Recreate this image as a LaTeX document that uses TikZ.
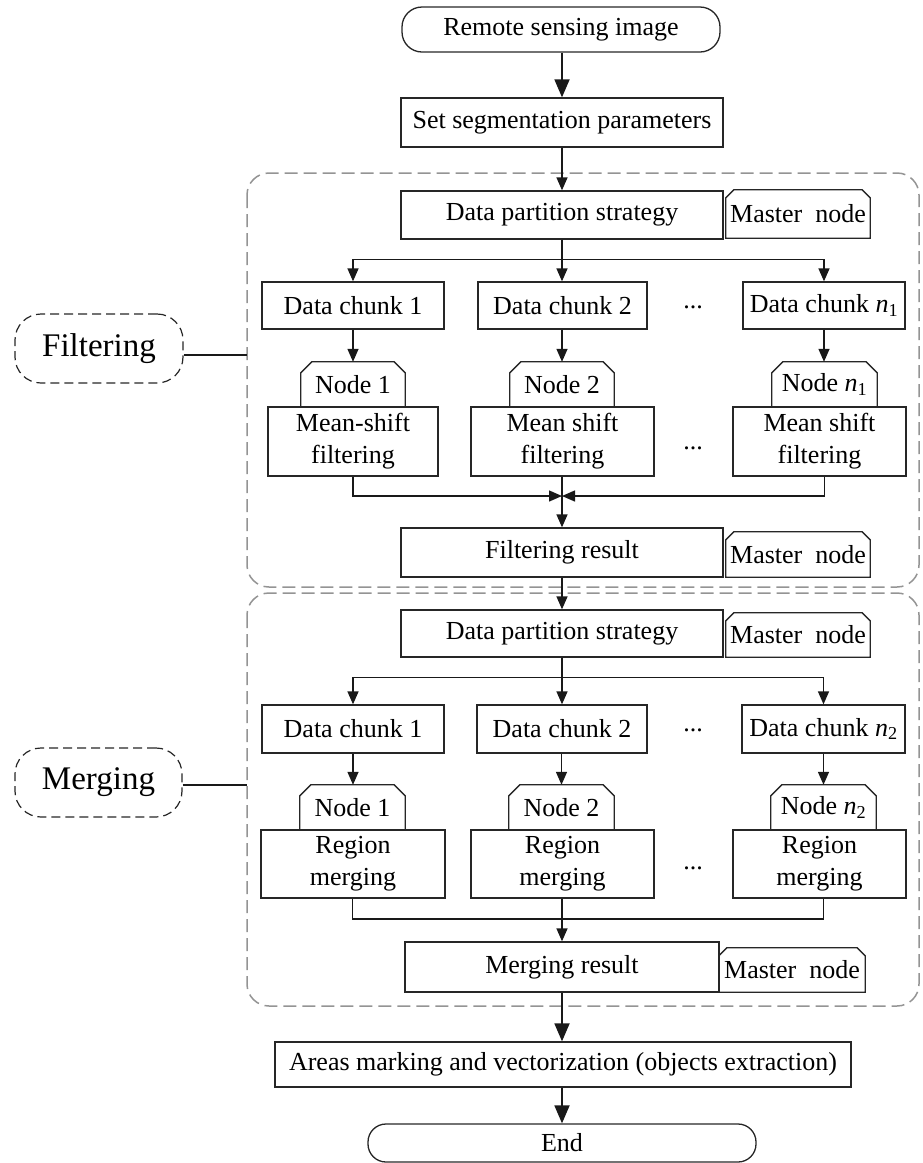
\documentclass[tikz,border=0pt]{standalone}
\usepackage{fontspec}
\setmainfont{Liberation Serif}
\usetikzlibrary{arrows.meta}
\newcommand{\mytabframe}[2]{%
  \draw[boxline] (#1.south west) -- ([yshift=-#2pt]#1.north west) -- ([xshift=#2pt]#1.north west)
    -- ([xshift=-#2pt]#1.north east) -- ([yshift=-#2pt]#1.north east) -- (#1.south east) -- cycle;}
\tikzset{
  txt/.style={font=\fontsize{26}{32}\selectfont, text=black, inner sep=0pt, align=center},
  boxline/.style={draw=black!85, line width=1.3pt},
  box/.style={txt, boxline},
  tabn/.style={txt},
  term/.style={txt, boxline, rounded corners=20pt},
  lbl/.style={font=\fontsize{33}{40}\selectfont, inner sep=0pt, draw=black!85, line width=1.2pt,
    dash pattern=on 9pt off 5pt, rounded corners=26pt},
  section/.style={draw=black!42, line width=1.5pt, dash pattern=on 13pt off 6pt, rounded corners=22pt},
  ln/.style={line width=1.4pt, draw=black!90},
  arr/.style={ln, -{Triangle[length=13pt,width=11pt]}},
  bigarr/.style={line width=1.8pt, draw=black!90, -{Triangle[length=18pt,width=15pt]}},
  dotsn/.style={txt}
}
\begin{document}
\begin{tikzpicture}[x=1pt,y=-1pt]
\useasboundingbox (0,0) rectangle (922,1163);

% sections
\draw[section] (247,173) rectangle (919,587);
\draw[section] (247,593) rectangle (919,1006);
\coordinate (f1w) at (247,355);
\coordinate (f2w) at (247,785);

% top
\node[term, minimum width=318pt, minimum height=45pt] (start) at (561,29.5) {Remote sensing image};
\node[box, minimum width=322pt, minimum height=49pt] (setseg) at (562,122.5) {Set segmentation parameters};

% filtering section
\node[box, minimum width=322pt, minimum height=48pt] (dps1) at (562,215) {Data partition strategy};
\node[tabn, minimum width=144pt, minimum height=48pt] (mn1) at (798,214) {Master~ node};
\mytabframe{mn1}{8}

\node[box, minimum width=182pt, minimum height=47pt] (ch11) at (353,305.5) {Data chunk 1};
\node[box, minimum width=169pt, minimum height=47pt] (ch12) at (562.5,305.5) {Data chunk 2};
\node[box, minimum width=162pt, minimum height=47pt] (ch13) at (824,305.5) {Data chunk \textit{n}\textsubscript{1}};
\node[dotsn] (d11) at (693,307) {...};

\node[tabn, minimum width=104pt, minimum height=45pt] (nd11) at (353,384.5) {Node 1};
\node[tabn, minimum width=104pt, minimum height=45pt] (nd12) at (562,384.5) {Node 2};
\node[tabn, minimum width=105pt, minimum height=45pt] (nd13) at (824.5,384.5) {Node \textit{n}\textsubscript{1}};
\mytabframe{nd11}{11}
\mytabframe{nd12}{11}
\mytabframe{nd13}{11}

\node[box, minimum width=170pt, minimum height=69pt] (ms1) at (353,441.5) {Mean-shift\\filtering};
\node[box, minimum width=183pt, minimum height=69pt] (ms2) at (562.5,441.5) {Mean shift\\filtering};
\node[box, minimum width=173pt, minimum height=69pt] (ms3) at (819.5,441.5) {Mean shift\\filtering};
\node[dotsn] (d12) at (693,448) {...};

\coordinate (c1) at (562,496);
\node[box, minimum width=322pt, minimum height=49pt] (fr) at (562,552.5) {Filtering result};
\node[tabn, minimum width=144pt, minimum height=45pt] (mn2) at (798,554.5) {Master~ node};
\mytabframe{mn2}{8}

% merging section
\node[box, minimum width=322pt, minimum height=47pt] (dps2) at (562,633.5) {Data partition strategy};
\node[tabn, minimum width=144pt, minimum height=44pt] (mn3) at (798,635) {Master~ node};
\mytabframe{mn3}{8}

\node[box, minimum width=182pt, minimum height=48pt] (ch21) at (353,729) {Data chunk 1};
\node[box, minimum width=170pt, minimum height=48pt] (ch22) at (562,729) {Data chunk 2};
\node[box, minimum width=163pt, minimum height=48pt] (ch23) at (823.5,729) {Data chunk \textit{n}\textsubscript{2}};
\node[dotsn] (d21) at (693,730) {...};

\node[tabn, minimum width=105pt, minimum height=45pt] (nd21) at (352.5,807.5) {Node 1};
\node[tabn, minimum width=105pt, minimum height=45pt] (nd22) at (561.5,807.5) {Node 2};
\node[tabn, minimum width=105pt, minimum height=45pt] (nd23) at (823.5,807.5) {Node \textit{n}\textsubscript{2}};
\mytabframe{nd21}{11}
\mytabframe{nd22}{11}
\mytabframe{nd23}{11}

\node[box, minimum width=184pt, minimum height=68pt] (rm1) at (353,864) {Region\\merging};
\node[box, minimum width=183pt, minimum height=68pt] (rm2) at (562.5,864) {Region\\merging};
\node[box, minimum width=173pt, minimum height=68pt] (rm3) at (819.5,864) {Region\\merging};
\node[dotsn] (d22) at (693,868) {...};

\coordinate (c2) at (562,919);
\node[box, minimum width=314pt, minimum height=50pt] (mr) at (562,967) {Merging result};
\node[tabn, minimum width=146pt, minimum height=44pt] (mn4) at (792,970) {Master~ node};
\mytabframe{mn4}{8}

% bottom
\node[box, minimum width=576pt, minimum height=45pt] (areas) at (563,1064.5) {Areas marking and vectorization (objects extraction)};
\node[term, minimum width=388pt, minimum height=38pt, rounded corners=18pt] (end) at (562,1143) {End};

% labels
\node[lbl, minimum width=168pt, minimum height=69pt] (lf) at (99,348.5) {Filtering};
\node[lbl, minimum width=167pt, minimum height=69pt] (lm) at (98.5,782.5) {Merging};
\draw[ln] (lf.east |- f1w) -- (f1w);
\draw[ln] (lm.east |- f2w) -- (f2w);

% connectors
\draw[bigarr] (start.south -| setseg.north) -- (setseg.north);
\draw[arr] (setseg.south) -- (dps1.north);
\draw[arr] (dps1.south) -- (ch12.north -| dps1.south);
\draw[arr] (dps1.south) |- ([yshift=-20pt]dps1.south) -| (ch11.north);
\draw[arr] (dps1.south) |- ([yshift=-20pt]dps1.south) -| (ch13.north);
\draw[arr] (ch11.south) -- (nd11.north);
\draw[arr] (ch12.south -| nd12.north) -- (nd12.north);
\draw[arr] (ch13.south) -- (nd13.north -| ch13.south);
\draw[arr] (nd11.south |- ms1.south) |- (c1);
\draw[arr] (nd13.south |- ms3.south) |- (c1);
\draw[arr] (ms2.south -| fr.north) -- (fr.north);
\draw[arr] (fr.south) -- (dps2.north);

\draw[arr] (dps2.south) -- (ch22.north -| dps2.south);
\draw[arr] (dps2.south) |- ([yshift=-20pt]dps2.south) -| (ch21.north);
\draw[arr] (dps2.south) |- ([yshift=-20pt]dps2.south) -| (ch23.north);
\draw[arr] (ch21.south) -- (nd21.north -| ch21.south);
\draw[arr] (ch22.south -| nd22.north) -- (nd22.north);
\draw[arr] (ch23.south -| nd23.north) -- (nd23.north);
\draw[ln] (nd21.south |- rm1.south) |- (c2) -| (nd23.south |- rm3.south);
\draw[arr] (rm2.south -| mr.north) -- (mr.north);
\draw[bigarr] (mr.south) -- (areas.north -| mr.south);
\draw[bigarr] (areas.south -| end.north) -- (end.north);
\end{tikzpicture}
\end{document}
